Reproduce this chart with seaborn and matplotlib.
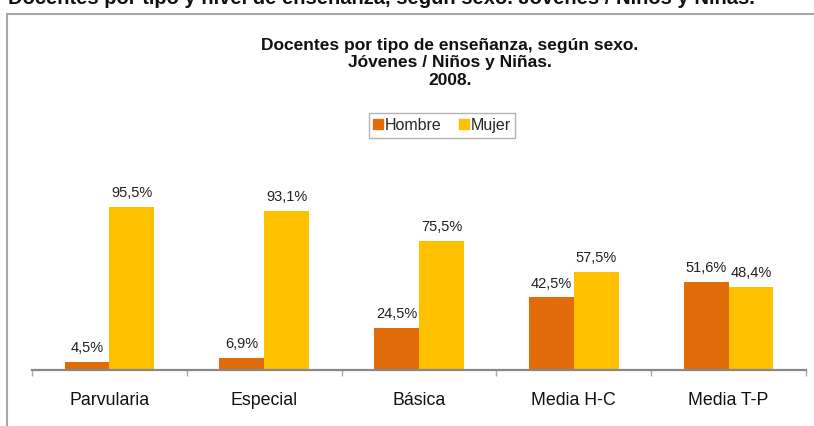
import matplotlib
matplotlib.use('Agg')

import matplotlib.pyplot as plt
import pandas as pd
import seaborn as sns
from matplotlib.patches import Rectangle

categories = ["Parvularia", "Especial", "Básica", "Media H-C", "Media T-P"]
hombre = [4.5, 6.9, 24.5, 42.5, 51.6]
mujer = [95.5, 93.1, 75.5, 57.5, 48.4]
series_names = ["Hombre", "Mujer"]
colors = ["#E36C0A", "#FFC000"]
title_lines = ["Docentes por tipo de enseñanza, según sexo.", "Jóvenes / Niños y Niñas.", "2008."]

sns.set_theme(style="white")
plt.rcParams['font.family'] = ['Liberation Sans', 'DejaVu Sans']

df = pd.DataFrame({
    'Tipo': categories * 2,
    'Sexo': [series_names[0]] * len(categories) + [series_names[1]] * len(categories),
    'Valor': hombre + mujer,
})

fig = plt.figure(figsize=(8.14, 4.26), dpi=100)
ax = fig.add_axes([32 / 814, 56 / 426, 774 / 814, 170.7 / 426])

sns.barplot(data=df, x='Tipo', y='Valor', hue='Sexo', palette=colors,
            width=0.58, gap=0, saturation=1, linewidth=0, ax=ax, legend=False)

for cont in ax.containers:
    labels = [f"{v:.1f}%".replace('.', ',') for v in cont.datavalues]
    ax.bar_label(cont, labels=labels, padding=5, fontsize=10.5, color='#222222')

ax.set_ylim(0, 100)
ax.set_xlim(-0.5, len(categories) - 0.5)
ax.set_xlabel("")
ax.set_ylabel("")
ax.set_yticks([])
for s in ['top', 'left', 'right']:
    ax.spines[s].set_visible(False)
ax.spines['bottom'].set_color('#888888')
ax.spines['bottom'].set_linewidth(1.6)
ax.set_xticks([i - 0.5 for i in range(len(categories) + 1)], minor=True)
ax.tick_params(axis='x', which='minor', length=4, width=1, color='#aaaaaa', direction='out', bottom=True)
ax.tick_params(axis='x', which='major', length=0, pad=16, labelsize=12.8, labelcolor='#111111')

# Legend
handles = [plt.Line2D([], [], marker='s', linestyle='', markersize=6.5, color=c) for c in colors]
leg = fig.legend(handles, series_names, loc='center', bbox_to_anchor=(442 / 814, 1 - 125.5 / 426),
                 ncol=2, fontsize=11.5, frameon=True, fancybox=False, handlelength=0.6,
                 handletextpad=0.1, columnspacing=1.1, borderpad=0.3)
leg.get_frame().set_edgecolor('#a0a0a0')
leg.get_frame().set_linewidth(1.0)

# Title, one line at a time
for line, ypix in zip(title_lines, [45.7, 63, 80.3]):
    fig.text(450 / 814, 1 - ypix / 426, line, ha='center', va='center',
             fontsize=12.5, fontweight='bold', color='#111111')

# Clipped header from the surrounding page
fig.text(8 / 814, 1 - 4 / 426,
         "Docentes por tipo y nivel de enseñanza, según sexo. Jóvenes / Niños y Niñas.",
         ha='left', va='baseline', fontsize=14.5, fontweight='bold', color='#111111')

# Frame of the embedded chart
fig.patches.append(Rectangle((7 / 814, -0.1), 1.2, 0.1 + 412 / 426, transform=fig.transFigure,
                             fill=False, edgecolor='#a8a8a8', linewidth=1.5))

fig.savefig("out.png", dpi=100)
plt.close('all')
